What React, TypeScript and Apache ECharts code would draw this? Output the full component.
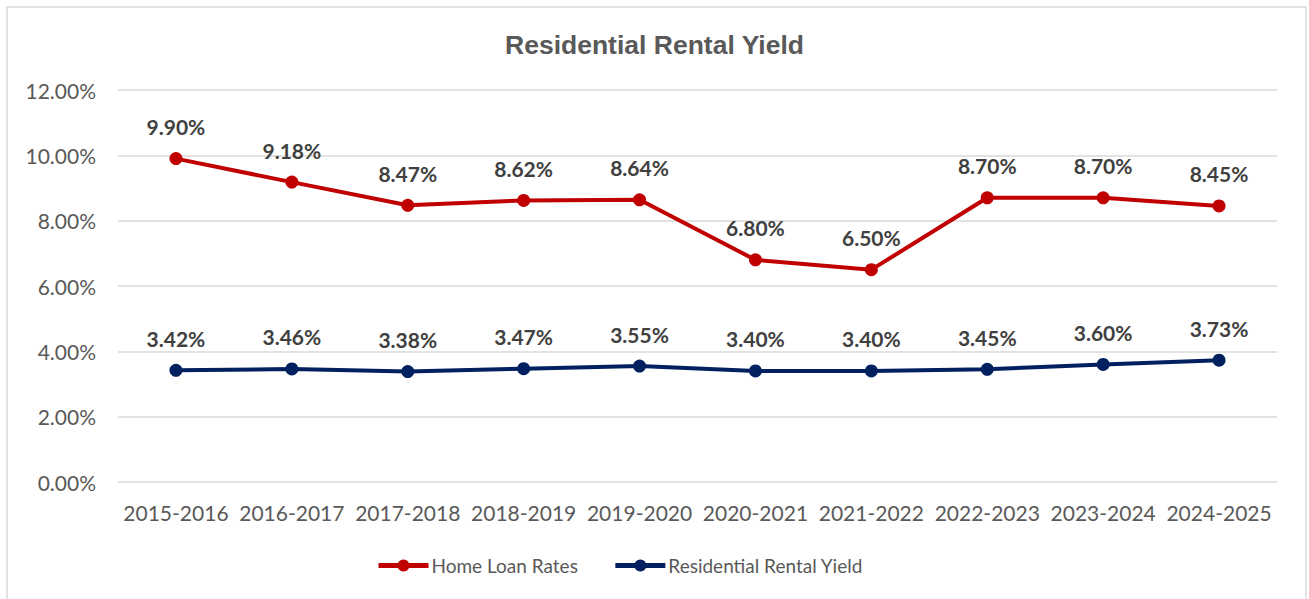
import React, { useEffect, useRef } from "react";
import * as echarts from "echarts";

const categories = ["2015-2016", "2016-2017", "2017-2018", "2018-2019", "2019-2020", "2020-2021", "2021-2022", "2022-2023", "2023-2024", "2024-2025"];
const homeLoanRates = [9.9, 9.18, 8.47, 8.62, 8.64, 6.8, 6.5, 8.7, 8.7, 8.45];
const rentalYield = [3.42, 3.46, 3.38, 3.47, 3.55, 3.4, 3.4, 3.45, 3.6, 3.73];

const FONT = "Lato, 'Open Sans', sans-serif";

export default function App() {
  const ref = useRef<HTMLDivElement>(null);
  useEffect(() => {
    if (!ref.current) return;
    const chart = echarts.init(ref.current, null, { renderer: "svg" });
    const mkSeries = (name: string, data: number[], color: string) => ({
      name,
      type: "line",
      data,
      symbol: "circle",
      symbolSize: 13,
      lineStyle: { color, width: 4 },
      itemStyle: { color },
      label: {
        show: true,
        position: "top",
        distance: 15,
        formatter: (p: any) => p.value.toFixed(2) + "%",
        fontFamily: FONT,
        fontWeight: "bold",
        fontSize: 21,
        color: "#404040",
      },
    });
    chart.setOption({
      animation: false,
      backgroundColor: "#ffffff",
      title: {
        text: "Residential Rental Yield",
        left: "center",
        top: 26,
        textStyle: { fontFamily: "'Liberation Sans', Arial, sans-serif", fontWeight: "bold", fontSize: 26.5, color: "#595959" },
      },
      grid: { left: 118, right: 32, top: 90, bottom: 117 },
      xAxis: {
        type: "category",
        data: categories,
        axisLine: { show: false },
        axisTick: { show: false },
        axisLabel: { interval: 0, fontFamily: FONT, fontSize: 21, color: "#595959", margin: 20 },
      },
      yAxis: {
        type: "value",
        min: 0,
        max: 12,
        interval: 2,
        axisLine: { show: false },
        axisTick: { show: false },
        splitLine: { lineStyle: { color: "#d9d9d9", width: 1.5 } },
        axisLabel: {
          fontFamily: FONT,
          fontSize: 21,
          color: "#595959",
          margin: 22,
          formatter: (v: number) => v.toFixed(2) + "%",
        },
      },
      legend: {
        top: 551,
        left: 371,
        itemWidth: 50,
        itemHeight: 15,
        itemGap: 35,
        lineStyle: { width: 5 },
        textStyle: { fontFamily: FONT, fontSize: 19, color: "#595959", padding: [0, 0, 0, -2] },
        data: ["Home Loan Rates", "Residential Rental Yield"],
      },
      series: [
        mkSeries("Home Loan Rates", homeLoanRates, "#C00000"),
        mkSeries("Residential Rental Yield", rentalYield, "#002060"),
      ],
      graphic: [
        {
          type: "rect",
          shape: { x: 7, y: 7, width: 1299, height: 620 },
          style: { fill: "none", stroke: "#d9d9d9", lineWidth: 1.5 },
          silent: true,
        },
      ],
    });
    return () => chart.dispose();
  }, []);
  return (
    <div
      ref={ref}
      style={{ position: "fixed", left: 0, top: 0, width: 1309, height: 599 }}
    />
  );
}
